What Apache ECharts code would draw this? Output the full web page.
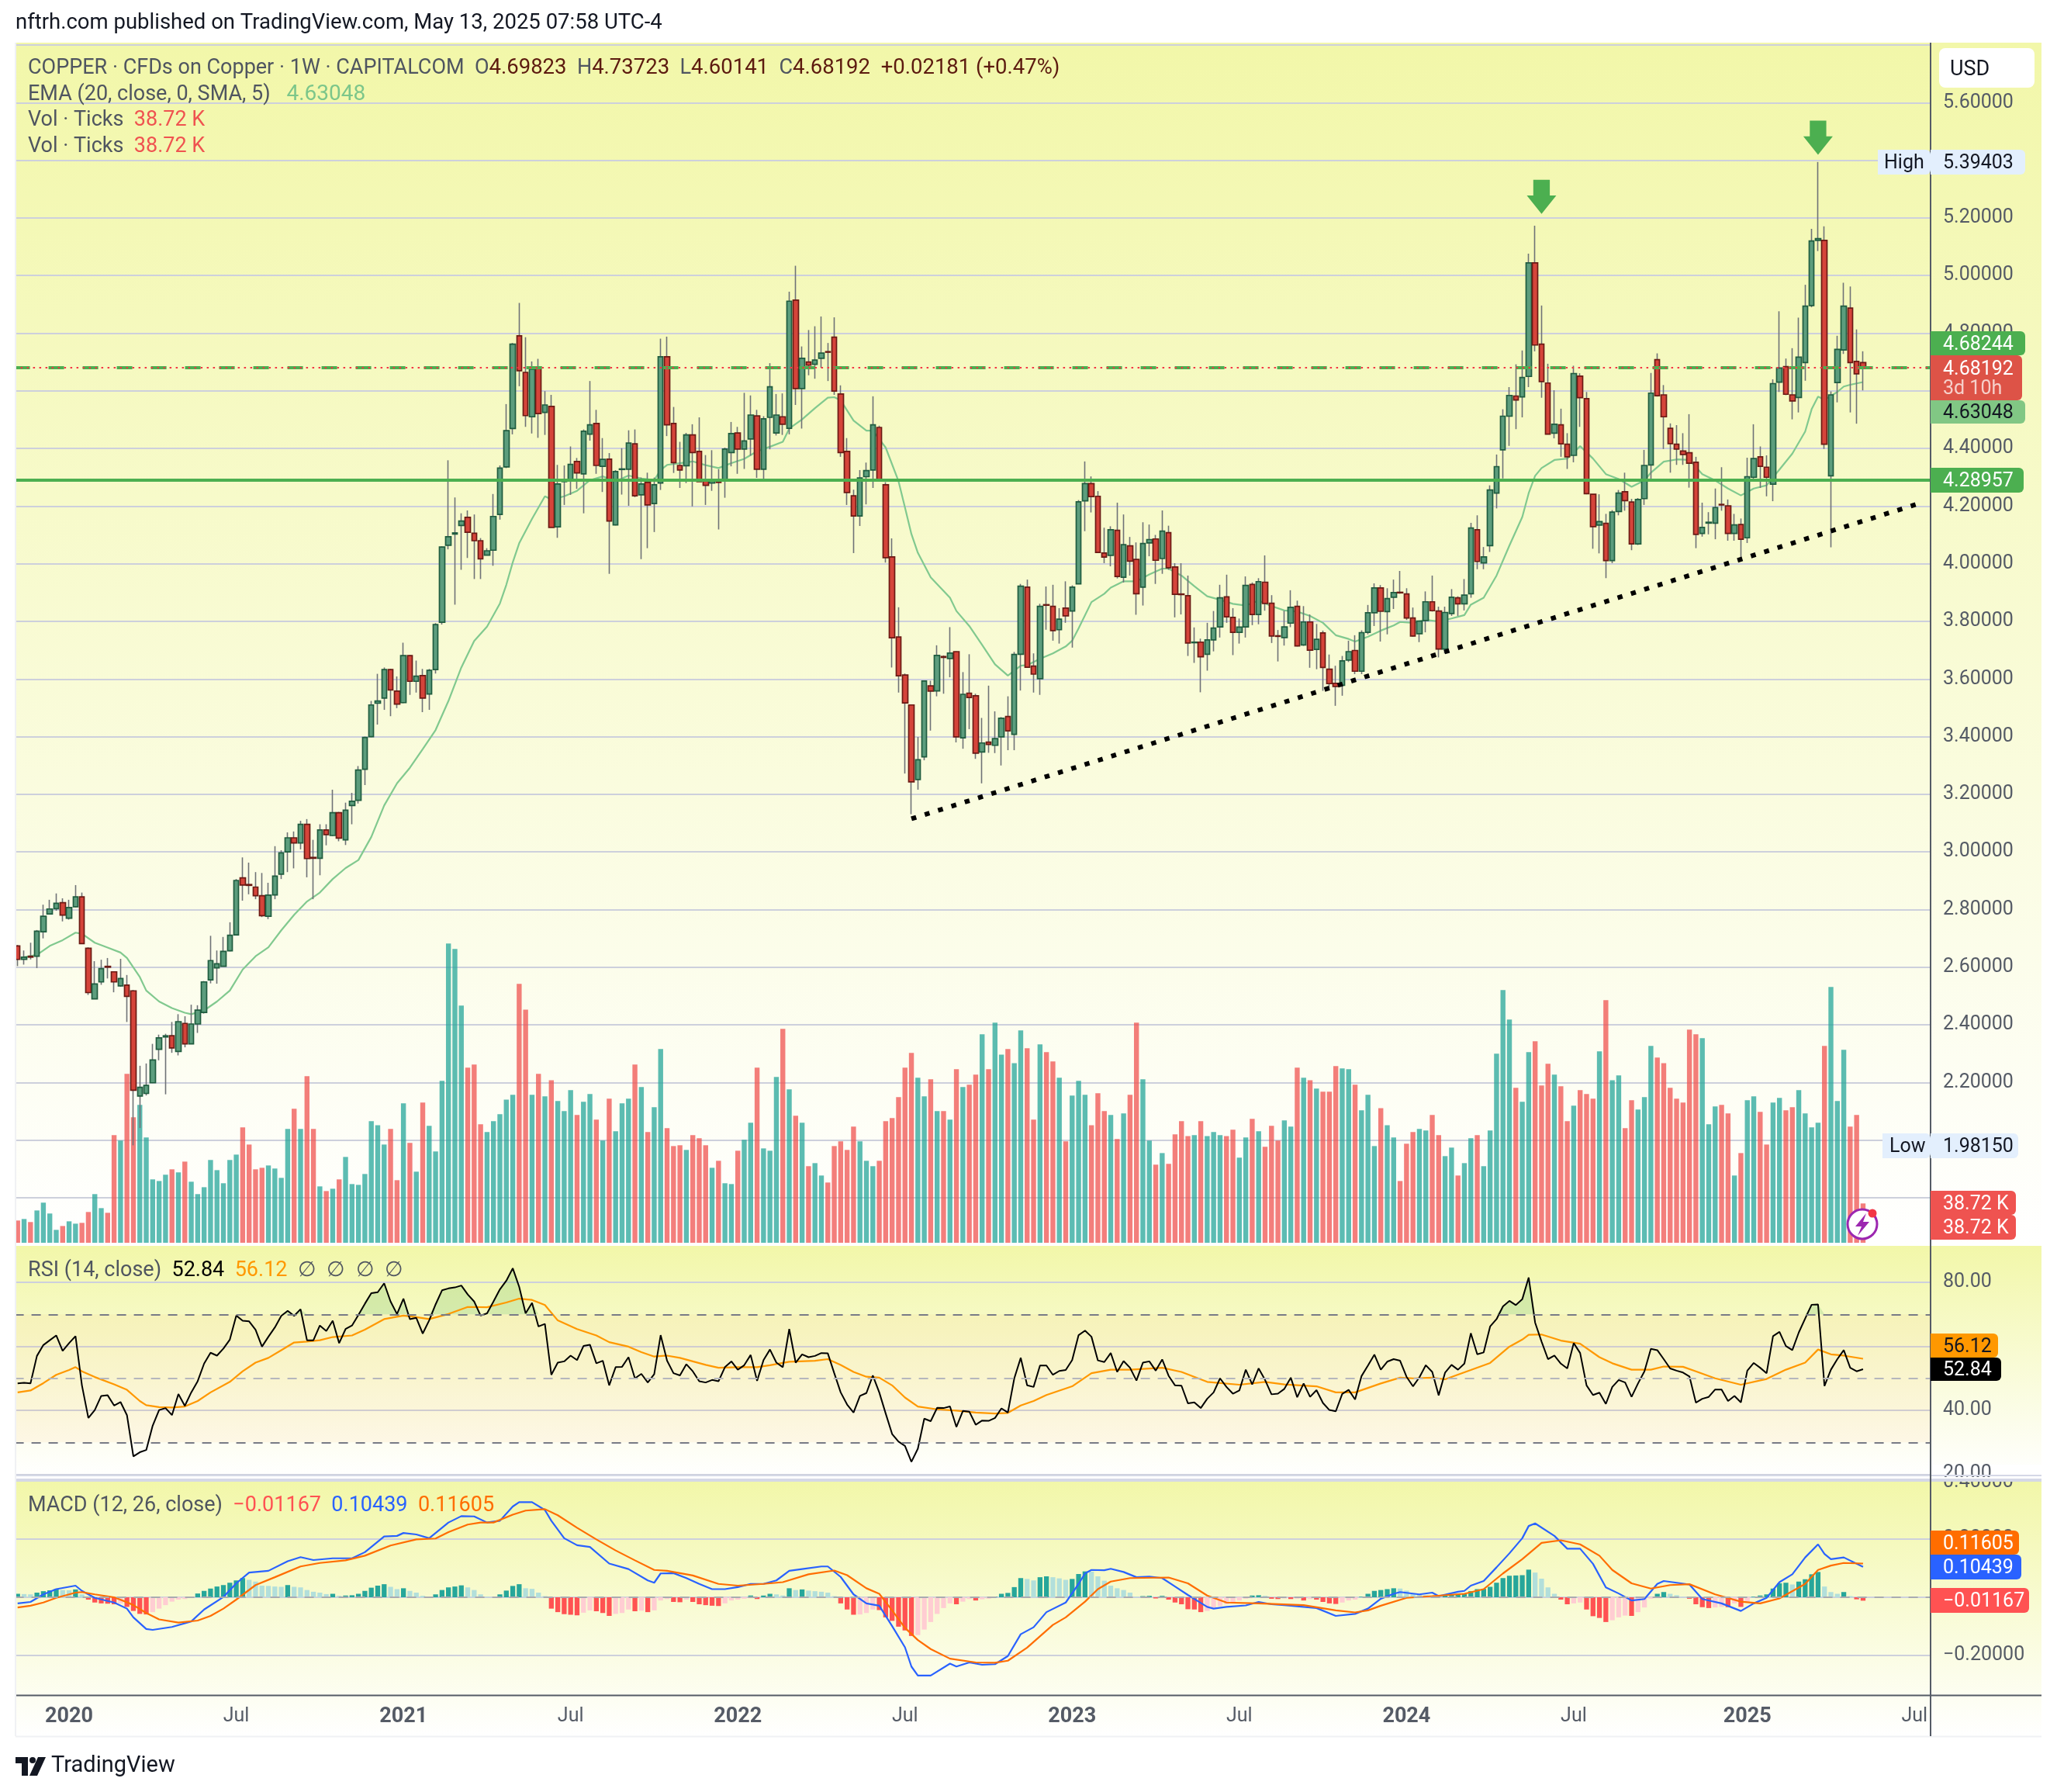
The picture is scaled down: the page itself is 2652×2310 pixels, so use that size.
<!DOCTYPE html>
<html>
<head>
<meta charset="utf-8">
<script src="https://cdn.jsdelivr.net/npm/echarts@6/dist/echarts.min.js"></script>
<style>
  html, body { margin: 0; background: #fff; }
  #chart { width: 2652px; height: 2310px; }
</style>
</head>
<body>
<div id="chart"></div>
<script>
// weekly candles
const opens = [
  2.674,2.627,2.638,2.638,2.723,2.785,2.803,2.824,2.770,2.810,2.844,2.666,2.490,2.549,2.603,2.584,2.535,2.538,2.518,2.153,
  2.162,2.199,2.315,2.358,2.362,2.308,2.405,2.334,2.403,2.443,2.556,2.598,2.603,2.657,2.712,2.910,2.887,2.878,2.848,2.777,
  2.851,2.923,3.000,3.049,3.031,3.096,2.981,2.978,3.076,3.057,3.136,3.042,3.161,3.179,3.287,3.400,3.516,3.534,3.633,3.558,
  3.518,3.681,3.592,3.612,3.548,3.633,3.797,4.064,4.103,4.133,4.161,4.106,4.080,4.030,4.047,4.171,4.336,4.469,4.791,4.664,
  4.510,4.683,4.525,4.546,4.128,4.285,4.287,4.355,4.312,4.450,4.487,4.338,4.363,4.135,4.327,4.328,4.416,4.239,4.282,4.209,
  4.280,4.718,4.487,4.341,4.340,4.447,4.390,4.290,4.280,4.290,4.290,4.386,4.454,4.398,4.433,4.513,4.328,4.508,4.454,4.510,
  4.470,4.915,4.608,4.700,4.692,4.713,4.736,4.786,4.589,4.390,4.236,4.166,4.302,4.325,4.473,4.274,4.024,3.746,3.614,3.510,
  3.251,3.330,3.576,3.559,3.678,3.671,3.695,3.396,3.551,3.542,3.347,3.381,3.370,3.399,3.470,3.408,3.686,3.919,3.645,3.601,
  3.858,3.852,3.771,3.846,3.836,3.930,4.218,4.278,4.234,4.037,4.029,4.116,3.953,4.062,4.015,3.919,4.072,4.086,4.018,4.108,
  3.989,3.895,3.889,3.726,3.728,3.686,3.736,3.781,3.885,3.814,3.762,3.781,3.928,3.824,3.936,3.863,3.750,3.744,3.794,3.852,
  3.718,3.798,3.703,3.760,3.634,3.585,3.578,3.666,3.699,3.627,3.762,3.830,3.916,3.834,3.884,3.901,3.895,3.812,3.757,3.803,
  3.868,3.836,3.704,3.827,3.882,3.861,3.896,4.118,4.003,4.063,4.245,4.395,4.512,4.582,4.579,4.650,5.044,4.762,4.627,4.453,
  4.482,4.415,4.376,4.651,4.573,4.241,4.134,4.140,4.011,4.181,4.250,4.214,4.069,4.226,4.343,4.708,4.586,4.470,4.415,4.391,
  4.385,4.352,4.105,4.141,4.141,4.206,4.201,4.105,4.136,4.090,4.300,4.371,4.335,4.276,4.630,4.684,4.586,4.577,4.698,4.896,
  5.122,5.122,4.305,4.629,4.742,4.887,4.702,4.69823
];
const closes = [
  2.627,2.635,2.635,2.725,2.777,2.802,2.822,2.781,2.807,2.844,2.682,2.512,2.542,2.595,2.600,2.549,2.561,2.499,2.173,2.183,
  2.190,2.278,2.355,2.362,2.320,2.411,2.334,2.403,2.451,2.549,2.623,2.612,2.655,2.711,2.901,2.885,2.884,2.848,2.779,2.850,
  2.916,2.997,3.049,3.031,3.096,2.977,2.978,3.076,3.060,3.136,3.048,3.145,3.176,3.284,3.397,3.510,3.524,3.633,3.562,3.513,
  3.681,3.592,3.610,3.534,3.630,3.789,4.058,4.094,4.107,4.148,4.109,4.080,4.017,4.045,4.164,4.332,4.462,4.762,4.670,4.514,
  4.675,4.521,4.551,4.126,4.277,4.287,4.345,4.315,4.460,4.482,4.341,4.362,4.148,4.320,4.329,4.419,4.236,4.277,4.204,4.274,
  4.718,4.482,4.351,4.325,4.447,4.386,4.285,4.272,4.289,4.282,4.398,4.452,4.398,4.426,4.516,4.328,4.503,4.614,4.516,4.484,
  4.911,4.608,4.713,4.689,4.707,4.731,4.734,4.599,4.386,4.247,4.166,4.298,4.323,4.482,4.293,4.021,3.743,3.611,3.517,3.243,
  3.320,3.593,3.558,3.682,3.675,3.690,3.399,3.547,3.536,3.343,3.378,3.373,3.393,3.464,3.420,3.685,3.922,3.641,3.617,3.852,
  3.856,3.768,3.808,3.819,3.919,4.215,4.278,4.233,4.039,4.023,4.118,3.956,4.066,4.009,3.896,4.070,4.084,4.012,4.113,3.986,
  3.894,3.893,3.725,3.728,3.677,3.736,3.777,3.882,3.816,3.762,3.780,3.925,3.824,3.938,3.862,3.749,3.748,3.781,3.849,3.715,
  3.798,3.700,3.738,3.640,3.584,3.574,3.663,3.695,3.627,3.761,3.830,3.916,3.835,3.879,3.900,3.899,3.812,3.749,3.801,3.868,
  3.837,3.704,3.831,3.884,3.861,3.891,4.124,4.008,4.024,4.256,4.337,4.512,4.584,4.568,4.646,5.044,4.759,4.632,4.450,4.484,
  4.416,4.371,4.660,4.576,4.243,4.129,4.146,4.011,4.179,4.245,4.219,4.069,4.223,4.341,4.592,4.583,4.510,4.417,4.398,4.379,
  4.349,4.102,4.126,4.144,4.195,4.204,4.105,4.135,4.085,4.302,4.365,4.338,4.300,4.625,4.679,4.588,4.565,4.717,4.894,5.120,
  5.128,4.415,4.586,4.744,4.894,4.698,4.659,4.68192
];
const lows = [
  2.604,2.609,2.627,2.597,2.700,2.785,2.796,2.759,2.765,2.808,2.682,2.504,2.490,2.539,2.561,2.513,2.532,2.410,1.982,2.042,
  2.155,2.198,2.277,2.159,2.303,2.294,2.322,2.334,2.372,2.439,2.544,2.543,2.603,2.655,2.712,2.831,2.853,2.836,2.774,2.767,
  2.836,2.906,2.930,2.943,3.009,2.912,2.836,2.919,3.023,3.055,3.037,3.024,3.096,3.168,3.232,3.398,3.442,3.493,3.471,3.499,
  3.516,3.545,3.553,3.485,3.493,3.619,3.789,4.050,3.858,3.979,4.020,3.947,3.947,4.030,3.993,4.153,4.332,4.449,4.616,4.475,
  4.452,4.437,4.447,4.126,4.090,4.204,4.239,4.260,4.175,4.427,4.312,4.249,3.965,4.133,4.240,4.201,4.231,4.016,4.054,4.110,
  4.256,4.443,4.315,4.263,4.280,4.199,4.285,4.204,4.253,4.119,4.229,4.338,4.312,4.329,4.375,4.298,4.286,4.397,4.445,4.447,
  4.449,4.551,4.469,4.654,4.642,4.680,4.634,4.586,4.371,4.204,4.037,4.131,4.206,4.263,4.290,4.004,3.640,3.553,3.272,3.131,
  3.216,3.318,3.421,3.540,3.549,3.606,3.380,3.358,3.426,3.323,3.238,3.344,3.343,3.300,3.353,3.353,3.560,3.641,3.553,3.545,
  3.771,3.733,3.723,3.795,3.709,3.930,4.113,4.178,4.039,4.002,3.991,3.949,3.935,3.959,3.823,3.855,4.026,3.930,3.965,3.979,
  3.814,3.824,3.680,3.656,3.554,3.629,3.696,3.744,3.795,3.683,3.723,3.744,3.787,3.790,3.837,3.725,3.661,3.716,3.780,3.713,
  3.715,3.639,3.634,3.559,3.560,3.507,3.542,3.659,3.617,3.617,3.755,3.784,3.730,3.755,3.843,3.896,3.805,3.747,3.728,3.762,
  3.834,3.675,3.689,3.819,3.819,3.838,3.882,3.981,3.981,4.041,4.192,4.296,4.409,4.467,4.508,4.613,4.737,4.576,4.450,4.435,
  4.371,4.329,4.352,4.475,4.241,4.052,4.036,3.950,4.002,4.168,4.184,4.047,4.065,4.204,4.285,4.580,4.398,4.316,4.343,4.343,
  4.264,4.054,4.094,4.102,4.085,4.184,4.080,4.080,4.019,4.072,4.294,4.263,4.234,4.217,4.596,4.585,4.501,4.525,4.635,4.890,
  5.085,4.398,4.057,4.560,4.728,4.525,4.486,4.60141
];
const highs = [
  2.677,2.658,2.685,2.729,2.817,2.834,2.856,2.839,2.834,2.885,2.859,2.669,2.621,2.626,2.632,2.586,2.629,2.573,2.521,2.258,
  2.266,2.334,2.366,2.369,2.410,2.437,2.430,2.470,2.468,2.552,2.709,2.658,2.705,2.756,2.906,2.981,2.963,2.930,2.927,2.893,
  3.020,3.006,3.068,3.071,3.108,3.114,3.042,3.096,3.096,3.216,3.139,3.171,3.205,3.298,3.400,3.524,3.618,3.640,3.635,3.609,
  3.726,3.683,3.664,3.635,3.635,3.794,4.060,4.359,4.230,4.175,4.185,4.171,4.089,4.054,4.242,4.341,4.554,4.766,4.905,4.786,
  4.702,4.711,4.599,4.586,4.343,4.341,4.407,4.367,4.466,4.634,4.534,4.436,4.384,4.325,4.401,4.463,4.466,4.299,4.316,4.299,
  4.781,4.788,4.544,4.423,4.454,4.484,4.508,4.377,4.394,4.328,4.403,4.492,4.475,4.593,4.584,4.534,4.512,4.696,4.589,4.591,
  4.944,5.034,4.754,4.811,4.824,4.858,4.766,4.855,4.619,4.436,4.257,4.325,4.351,4.581,4.479,4.283,4.088,3.849,3.619,3.510,
  3.399,3.594,3.594,3.717,3.682,3.780,3.696,3.624,3.686,3.549,3.465,3.577,3.488,3.468,3.540,3.694,3.930,3.945,3.689,3.861,
  3.921,3.927,3.846,3.939,3.925,4.221,4.355,4.303,4.252,4.125,4.130,4.212,4.171,4.093,4.074,4.144,4.136,4.100,4.185,4.132,
  4.002,4.002,3.959,3.779,3.740,3.795,3.836,3.927,3.962,3.846,3.810,3.956,3.935,3.950,4.029,3.891,3.770,3.837,3.908,3.872,
  3.853,3.824,3.791,3.768,3.685,3.646,3.680,3.733,3.752,3.769,3.857,3.932,3.926,3.915,3.945,3.975,3.915,3.848,3.803,3.904,
  3.959,3.851,3.851,3.912,3.887,3.947,4.142,4.168,4.058,4.272,4.379,4.536,4.613,4.692,4.740,5.076,5.173,4.896,4.694,4.602,
  4.538,4.453,4.687,4.661,4.596,4.241,4.241,4.173,4.186,4.256,4.316,4.225,4.228,4.395,4.662,4.730,4.620,4.487,4.481,4.453,
  4.519,4.371,4.212,4.179,4.261,4.335,4.223,4.173,4.157,4.368,4.484,4.407,4.376,4.640,4.876,4.712,4.748,4.854,4.968,5.162,
  5.394,5.171,4.598,4.791,4.975,4.962,4.813,4.73723
];
// volume in K ticks
const volumes = [
  21.9,23.4,20.4,31.8,39.5,28.8,12.7,16.5,21.1,18.8,19.6,30.3,47.9,34.1,29.5,105.9,100.6,166.3,123.5,135.7,
  103.6,62.4,60.8,67.0,72.3,69.3,79.9,60.1,47.9,54.7,81.5,71.5,58.6,81.5,86.8,113.6,96.7,72.3,73.8,76.1,
  73.1,63.9,112.0,131.9,112.0,164.0,112.0,55.5,50.9,53.2,62.4,84.5,57.8,57.0,67.7,119.7,115.8,96.7,112.0,61.6,
  137.2,98.3,70.0,138.0,115.1,89.9,159.4,294.6,289.2,233.5,172.4,175.4,116.6,109.0,119.7,126.5,141.0,145.6,254.9,229.6,
  145.6,166.3,144.1,160.1,139.5,129.6,150.2,125.8,138.8,146.4,121.2,100.6,141.8,109.7,137.2,141.8,175.4,153.3,109.0,133.4,
  190.7,112.8,95.2,96.0,91.4,105.9,102.9,96.0,73.8,80.7,58.6,57.8,90.6,101.3,118.1,172.4,92.9,90.6,163.2,210.6,
  151.0,125.0,118.1,75.4,78.4,66.2,59.3,95.2,99.8,91.4,114.3,99.8,80.7,75.4,80.7,119.7,122.7,143.3,172.4,186.9,
  162.4,144.1,160.9,129.6,129.6,121.2,170.8,153.3,155.6,165.5,205.2,170.8,216.7,185.3,190.7,176.9,209.0,191.5,121.2,195.3,
  187.6,178.5,162.4,99.8,144.9,159.4,145.6,115.8,147.2,129.6,125.8,102.1,127.3,145.6,216.7,160.9,100.6,76.9,88.3,77.7,
  106.7,119.7,105.1,105.9,119.7,105.1,109.0,105.9,105.1,111.3,83.8,103.6,122.0,109.7,94.5,115.1,100.6,120.4,114.3,172.4,
  162.4,160.1,151.7,148.7,148.7,173.9,171.6,170.8,155.6,130.4,145.6,95.2,132.6,115.8,103.6,60.8,97.5,109.0,112.0,110.5,
  125.8,105.9,85.3,93.7,66.2,78.4,102.9,105.9,75.4,110.5,186.1,248.7,219.7,152.5,138.8,187.6,198.3,154.8,176.2,165.5,
  154.0,119.7,134.9,150.2,146.4,141.8,188.4,238.8,160.1,164.7,112.8,140.3,131.1,143.3,193.8,182.3,176.9,152.5,141.8,138.0,
  209.8,205.2,201.4,116.6,134.2,135.7,127.3,66.2,88.3,140.3,144.1,128.8,96.7,138.0,142.6,130.4,133.4,150.2,127.3,113.6,
  118.1,193.8,251.8,139.5,189.9,114.3,125.8,38.72
];
const rsiValues = [
  48.4,48.6,48.4,57.0,60.4,61.9,63.4,58.6,61.0,63.2,47.8,37.6,40.1,44.5,44.7,41.5,42.6,38.5,25.6,26.9,
  27.6,35.2,40.1,40.7,38.5,45.1,41.4,45.6,49.1,54.6,58.0,57.1,59.3,62.1,69.6,68.0,67.8,65.2,59.9,63.0,
  65.9,69.5,71.1,69.5,71.6,61.9,61.9,66.5,64.8,68.0,61.0,65.4,66.5,69.8,73.3,76.6,76.9,79.7,74.0,70.1,
  74.9,68.5,68.9,64.0,68.1,73.1,77.5,78.1,78.4,79.0,76.2,74.0,69.6,70.3,74.0,77.8,80.5,84.4,78.6,70.3,
  73.6,66.2,67.0,51.1,54.9,55.3,57.1,55.7,60.1,60.5,54.7,55.5,47.8,53.5,53.6,56.6,50.0,51.4,48.7,51.3,
  63.5,55.5,51.6,50.9,54.4,52.2,49.1,48.7,49.5,49.1,53.5,55.3,52.7,54.1,57.3,49.2,55.7,59.0,54.9,53.5,
  65.4,54.9,57.5,56.6,57.0,57.9,57.8,51.6,45.6,41.8,39.3,44.5,45.4,50.9,45.6,39.0,32.6,30.2,28.9,23.9,
  28.0,37.4,36.6,40.8,40.7,41.2,34.8,39.8,39.6,35.5,36.8,36.7,37.6,40.6,39.3,50.0,56.4,47.8,47.3,54.0,
  54.0,51.1,52.3,52.6,55.7,63.5,64.9,63.0,55.6,55.1,57.9,52.0,55.4,53.3,49.3,54.9,55.3,52.4,55.9,50.8,
  47.8,47.7,42.2,42.5,40.7,43.6,45.6,50.0,47.3,45.2,46.2,52.7,48.1,53.1,49.5,45.0,45.2,46.7,50.2,44.1,
  48.4,44.2,46.3,42.3,40.1,39.7,45.1,46.4,43.4,50.7,54.0,57.4,52.7,55.2,56.0,55.5,50.5,47.5,50.3,54.1,
  52.0,44.7,51.8,54.2,52.7,54.6,64.1,57.5,58.1,66.2,68.5,72.5,74.2,72.9,74.7,81.5,67.4,61.5,56.0,57.1,
  54.6,53.1,61.0,57.9,47.8,44.8,45.5,42.0,47.3,49.5,48.7,44.2,48.4,52.2,59.2,58.8,56.0,53.1,52.4,51.8,
  50.6,42.4,43.6,44.2,46.5,46.5,42.9,44.5,42.5,52.4,54.8,53.3,51.6,63.2,64.5,60.1,58.8,64.3,68.7,73.0,
  73.1,47.6,52.7,56.0,58.8,53.3,52.2,52.84
];
const macdHist = [
  .012,.011,.010,.016,.021,.024,.028,.025,.024,.027,.010,-.008,-.018,-.021,-.022,-.024,-.021,-.033,-.047,-.057,
  -.059,-.051,-.039,-.027,-.015,-.008,-.006,.001,.013,.022,.030,.037,.042,.050,.058,.066,.060,.054,.040,.039,
  .037,.036,.042,.036,.034,.025,.019,.016,.011,.012,.005,.006,.007,.012,.022,.033,.040,.045,.036,.028,
  .031,.022,.016,.005,.001,.010,.025,.034,.037,.041,.034,.025,.010,.002,.001,.010,.023,.039,.045,.031,
  .029,.016,.004,-.039,-.051,-.058,-.060,-.062,-.053,-.045,-.048,-.054,-.064,-.057,-.054,-.042,-.048,-.046,-.051,-.045,
  -.011,-.006,-.016,-.017,-.008,-.016,-.024,-.027,-.029,-.030,-.021,-.011,-.008,-.005,.006,-.006,.006,.012,.010,.006,
  .031,.025,.027,.023,.021,.019,.016,.004,-.021,-.042,-.060,-.059,-.054,-.042,-.044,-.069,-.081,-.101,-.114,-.133,
  -.130,-.111,-.085,-.057,-.037,-.021,-.024,-.015,-.006,-.011,-.007,-.005,.002,.012,.015,.035,.066,.063,.058,.069,
  .072,.069,.065,.060,.063,.080,.089,.088,.072,.057,.040,.031,.025,.016,.002,.004,.005,-.004,.005,-.008,
  -.018,-.024,-.041,-.042,-.051,-.047,-.036,-.030,-.024,-.017,-.011,-.005,.006,.007,.005,-.005,-.006,-.004,-.006,-.005,
  -.011,-.006,-.008,-.016,-.021,-.023,-.018,-.011,-.008,.002,.012,.022,.025,.028,.031,.030,.023,.012,.008,.007,
  .006,.004,.006,.008,.010,.011,.021,.028,.029,.036,.050,.066,.074,.075,.076,.095,.085,.064,.034,.012,
  -.008,-.024,-.021,-.018,-.042,-.065,-.071,-.085,-.079,-.069,-.063,-.064,-.051,-.035,-.005,.012,.018,.012,.007,.001,
  -.005,-.024,-.034,-.037,-.035,-.033,-.034,-.021,-.033,-.015,.002,.006,.010,.030,.048,.050,.044,.054,.062,.079,
  .087,.037,.018,.012,.018,.004,-.007,-.01167
];
// smooth lines, read at selected weeks: [week index, value]
const emaPoints = [
  [1,2.635],[3,2.643],[5,2.674],[7,2.694],[9,2.720],[10,2.716],[12,2.685],[14,2.668],[16,2.651],[17,2.632],[19,2.566],[20,2.519],
  [22,2.481],[24,2.458],[26,2.442],[27,2.437],[29,2.450],[31,2.481],[33,2.519],[35,2.592],[37,2.638],[39,2.669],[41,2.728],[43,2.782],
  [45,2.828],[47,2.859],[49,2.906],[51,2.944],[53,2.972],[55,3.052],[57,3.161],[59,3.238],[61,3.292],[63,3.357],[65,3.423],[67,3.524],
  [69,3.640],[71,3.732],[73,3.782],[75,3.862],[76,3.927],[77,4.005],[78,4.071],[80,4.156],[82,4.234],[83,4.223],[85,4.234],[87,4.253],
  [89,4.290],[91,4.303],[93,4.286],[95,4.306],[97,4.296],[99,4.290],[100,4.325],[101,4.343],[103,4.349],[105,4.355],[107,4.342],[109,4.332],
  [111,4.349],[113,4.364],[115,4.390],[117,4.406],[119,4.423],[120,4.469],[122,4.501],[124,4.540],[126,4.576],[127,4.578],[128,4.567],[130,4.497],
  [132,4.462],[133,4.462],[135,4.403],[137,4.286],[138,4.195],[139,4.103],[140,4.038],[142,3.953],[145,3.882],[146,3.836],[148,3.784],[150,3.718],
  [152,3.651],[154,3.612],[156,3.646],[157,3.648],[159,3.670],[161,3.689],[163,3.713],[164,3.733],[165,3.776],[167,3.867],[169,3.896],[170,3.917],
  [172,3.939],[174,3.939],[176,3.963],[178,3.983],[179,3.983],[181,3.959],[183,3.922],[185,3.887],[187,3.875],[189,3.861],[191,3.855],[193,3.872],
  [195,3.853],[197,3.838],[199,3.834],[201,3.819],[203,3.795],[205,3.752],[207,3.739],[208,3.730],[210,3.747],[212,3.768],[214,3.786],[215,3.798],
  [217,3.795],[219,3.805],[221,3.800],[223,3.810],[225,3.822],[226,3.858],[228,3.882],[230,3.959],[232,4.063],[234,4.162],[235,4.245],[236,4.305],
  [237,4.332],[239,4.360],[241,4.365],[243,4.408],[245,4.365],[247,4.311],[249,4.294],[251,4.267],[253,4.289],[254,4.316],[256,4.354],[258,4.362],
  [260,4.360],[262,4.311],[264,4.289],[266,4.261],[268,4.237],[270,4.261],[272,4.272],[274,4.327],[276,4.382],[278,4.459],[279,4.536],[280,4.580],
  [281,4.569],[283,4.596],[284,4.615],[285,4.621],[287,4.63048]
];
const rsiMaPoints = [
  [0,45.6],[2,46.2],[4,48.5],[6,51.1],[8,52.6],[9,53.5],[10,52.2],[12,50.4],[15,48.1],[17,46.4],[19,42.9],[20,41.6],
  [22,41.0],[24,40.9],[26,41.2],[28,42.9],[30,45.6],[33,48.9],[35,52.2],[37,54.9],[39,56.4],[41,58.8],[43,61.2],[45,61.5],
  [47,61.9],[49,62.9],[52,63.4],[54,65.2],[57,68.5],[60,69.6],[62,69.1],[64,68.5],[67,70.1],[70,72.3],[73,72.2],[76,73.7],
  [78,74.9],[80,74.5],[82,72.9],[84,68.1],[87,65.4],[90,63.4],[92,61.3],[95,59.9],[97,58.2],[99,56.8],[101,57.1],[103,56.4],
  [105,55.3],[107,54.2],[109,53.3],[112,53.5],[115,53.5],[117,54.1],[120,55.2],[124,55.5],[126,56.0],[128,54.2],[130,52.0],[132,50.5],
  [134,50.2],[136,47.8],[138,44.0],[140,41.2],[143,40.3],[146,39.9],[149,39.3],[152,39.0],[154,39.2],[156,41.5],[158,42.9],[160,44.8],
  [164,47.5],[167,51.6],[170,52.7],[173,52.7],[178,53.3],[181,52.0],[185,48.9],[190,48.0],[194,48.9],[197,48.1],[202,47.5],[205,45.6],
  [208,45.6],[210,47.0],[212,48.4],[215,50.2],[217,50.0],[220,50.2],[222,49.7],[226,52.6],[229,54.8],[232,59.9],[234,62.1],[235,63.6],
  [237,63.7],[240,61.8],[243,60.8],[246,56.6],[248,54.7],[251,52.7],[254,52.7],[256,53.7],[259,53.6],[261,52.2],[264,50.0],[268,48.0],
  [272,49.8],[275,52.7],[278,54.9],[280,59.0],[282,57.5],[284,57.1],[287,56.12]
];
const macdPoints = [
  [0,-.021],[2,-.016],[4,.010],[6,.028],[9,.040],[10,.022],[12,-.002],[15,-.018],[17,-.039],[18,-.069],[20,-.109],[21,-.112],
  [24,-.102],[27,-.083],[29,-.042],[32,.001],[34,.048],[36,.085],[39,.091],[42,.124],[44,.138],[46,.128],[49,.134],[52,.134],
  [54,.155],[57,.209],[59,.211],[60,.221],[62,.216],[64,.203],[67,.257],[69,.279],[71,.278],[73,.257],[75,.263],[77,.312],
  [78,.327],[80,.327],[82,.300],[83,.263],[85,.203],[87,.179],[89,.173],[92,.116],[95,.097],[98,.058],[99,.050],[100,.082],
  [102,.083],[104,.066],[106,.046],[108,.028],[110,.028],[112,.035],[114,.046],[116,.046],[118,.058],[120,.091],[122,.097],[125,.106],
  [126,.106],[128,.070],[130,.010],[132,-.021],[134,-.029],[136,-.099],[138,-.172],[139,-.238],[140,-.269],[142,-.269],[145,-.228],[146,-.238],
  [148,-.224],[150,-.232],[152,-.230],[154,-.202],[156,-.127],[158,-.103],[160,-.051],[163,-.018],[165,.046],[166,.082],[167,.094],[169,.093],
  [170,.098],[172,.087],[174,.069],[176,.071],[178,.066],[180,.037],[182,.008],[185,-.033],[186,-.039],[188,-.033],[191,-.028],[193,-.016],
  [195,-.024],[197,-.027],[200,-.033],[202,-.037],[205,-.064],[208,-.057],[210,-.039],[212,-.005],[214,.012],[215,.018],[218,.010],[220,.016],
  [221,.004],[224,.019],[225,.022],[226,.040],[228,.056],[230,.103],[232,.151],[234,.203],[235,.245],[236,.254],[239,.211],[241,.167],
  [243,.167],[245,.115],[247,.034],[249,.013],[251,-.011],[253,-.006],[255,.046],[256,.056],[260,.044],[262,-.006],[265,-.021],[268,-.047],
  [270,-.021],[272,-.002],[274,.052],[276,.079],[278,.137],[280,.182],[281,.149],[282,.131],[284,.137],[287,.10439]
];
const signalPoints = [
  [0,-.035],[2,-.029],[4,-.018],[6,-.002],[9,.016],[10,.018],[12,.010],[15,.000],[17,-.017],[18,-.027],[20,-.054],[22,-.076],
  [25,-.087],[28,-.080],[30,-.064],[32,-.039],[34,-.008],[37,.042],[40,.069],[44,.106],[47,.118],[51,.127],[54,.143],[58,.178],
  [62,.199],[65,.202],[67,.224],[70,.250],[72,.257],[74,.257],[77,.284],[79,.298],[82,.303],[84,.282],[87,.239],[90,.199],
  [93,.161],[96,.127],[99,.094],[101,.091],[105,.075],[109,.046],[112,.040],[116,.046],[119,.052],[123,.079],[127,.092],[129,.076],
  [132,.031],[134,.012],[136,-.045],[138,-.105],[140,-.147],[142,-.178],[145,-.211],[149,-.224],[152,-.225],[154,-.218],[157,-.173],[161,-.095],
  [163,-.069],[166,-.015],[168,.028],[170,.054],[173,.066],[179,.068],[182,.048],[185,.006],[188,-.018],[193,-.021],[200,-.027],[205,-.045],
  [208,-.052],[210,-.045],[212,-.029],[216,-.002],[220,.004],[225,.012],[228,.028],[231,.082],[234,.131],[237,.187],[240,.196],[243,.182],
  [246,.143],[248,.094],[251,.048],[254,.030],[257,.042],[260,.045],[264,.010],[268,-.015],[271,-.021],[274,-.004],[278,.046],[280,.094],
  [282,.109],[284,.118],[287,.11605]
];
// annotations on the price pane
const trendLine = [[139, 3.115], [296, 4.211]];
const arrowPoints = [[237, 5.273], [280, 5.478]];
const supportLevel = 4.28957;
const emaTagLevel = 4.68244;
const lastClose = 4.68192;
// time axis
const weekCount = 298;
const tickWeeks = [8, 34, 60, 86, 112, 138, 164, 190, 216, 242, 269, 295];
const tickLabels = ['2020', 'Jul', '2021', 'Jul', '2022', 'Jul', '2023', 'Jul', '2024', 'Jul', '2025', 'Jul'];

const FONT = 'Roboto';
const GREY = '#555b66';
const GRID = '#cdd0dc';
const UP_VOL = 'rgba(38,166,154,0.75)';
const DOWN_VOL = 'rgba(239,83,80,0.75)';

const categories = Array.from({ length: weekCount }, (_, i) => String(i));
const wickData = opens.map((o, i) => [o, closes[i], lows[i], highs[i]]);
const bodyData = opens.map((o, i) => [o, closes[i], Math.min(o, closes[i]), Math.max(o, closes[i])]);
const volumeData = volumes.map((v, i) => ({
  value: v,
  itemStyle: { color: closes[i] >= opens[i] ? UP_VOL : DOWN_VOL }
}));
const histData = macdHist.map((v, i) => {
  const prev = i ? macdHist[i - 1] : 0;
  let color
  if (v >= 0) color = v >= prev ? '#26a69a' : '#b2dfdb'
  else color = v < prev ? '#ff5252' : '#ffcdd2'
  return { value: v, itemStyle: { color } };
});

const yellowFade = () => new echarts.graphic.LinearGradient(0, 0, 0, 1, [
  { offset: 0, color: '#f2f7a9' },
  { offset: 1, color: '#ffffff' }
]);

const bg = (y0, y1) => ({
  type: 'rect', z: -10, silent: true,
  shape: { x: 20, y: y0, width: 2612, height: y1 - y0 },
  style: { fill: yellowFade() }
});
const hLine = (x0, x1, y, stroke, lineWidth) => ({
  type: 'line', z: 54, silent: true,
  shape: { x1: x0, y1: y, x2: x1, y2: y },
  style: { stroke, lineWidth }
});
const tag = (x0, x1, y0, y1, fill, color, text, textX) => [
  {
    type: 'rect', z: 60, silent: true,
    shape: { x: x0, y: y0, width: x1 - x0, height: y1 - y0, r: [0, 6, 6, 0] },
    style: { fill }
  },
  {
    type: 'text', z: 61, silent: true, x: textX || 2505, y: (y0 + y1) / 2 + 2,
    style: { text, fill: color, font: `25px ${FONT}`, verticalAlign: 'middle' }
  }
];
const label = (x, y, text, fill, size, z) => ({
  type: 'text', z: z || 61, silent: true, x, y,
  style: { text, fill, font: `${size || 25}px ${FONT}`, verticalAlign: 'middle' }
});
const mask = (y0, y1, z) => ({
  type: 'rect', z, silent: true,
  shape: { x: 2491, y: y0, width: 141, height: y1 - y0 },
  style: { fill: '#ffffff' }
});

const graphicElements = [
  bg(55, 1603), bg(1606, 1903), bg(1910, 2238),
  // the 20.00 and 0.40000 labels are cut by the pane edge
  label(2505, 1911, '0.40000', GREY, 25, 50),
  mask(1888, 1910, 51),
  label(2505, 1900, '20.00', GREY, 25, 52),
  mask(1904, 1910, 53),
  hLine(20, 2632, 1902, '#d5d8e6', 2),
  hLine(20, 2632, 1908, '#d5d8e6', 4),
  hLine(20, 2632, 2185.5, '#555b66', 2),
  hLine(20, 2632, 2238.5, '#f0f1f4', 2),
  { type: 'rect', z: 70, silent: true, shape: { x: 0, y: 50, width: 20, height: 2190 }, style: { fill: '#fff' } },
  { type: 'line', z: 71, silent: true, shape: { x1: 20, y1: 55, x2: 20, y2: 2238 }, style: { stroke: '#f0f1f4', lineWidth: 2 } },
  { type: 'line', z: 55, silent: true, shape: { x1: 2489, y1: 55, x2: 2489, y2: 2238 }, style: { stroke: '#555b66', lineWidth: 2 } },
  { type: 'rect', z: 60, silent: true, shape: { x: 2500, y: 62, width: 123, height: 51, r: 8 }, style: { fill: '#fff' } },
  label(2514, 90, 'USD', '#131722', 27),
  ...tag(2421, 2489, 193, 225, '#e3effd', '#131722', 'High', 2429),
  ...tag(2489, 2611, 193, 225, '#e3effd', '#131722', '5.39403'),
  ...tag(2489, 2611, 427, 458, '#4caf50', '#fff', '4.68244'),
  { type: 'rect', z: 60, silent: true, shape: { x: 2489, y: 458, width: 118, height: 58, r: [0, 6, 6, 0] }, style: { fill: '#dd5347' } },
  label(2505, 477, '4.68192', '#fff'),
  label(2505, 502, '3d 10h', '#f6d0cb'),
  ...tag(2489, 2611, 516, 546, '#81c784', '#131722', '4.63048'),
  ...tag(2489, 2609, 603, 635, '#4caf50', '#fff', '4.28957'),
  ...tag(2427, 2489, 1461, 1493, '#e3effd', '#131722', 'Low', 2436),
  ...tag(2489, 2602, 1461, 1493, '#e3effd', '#131722', '1.98150'),
  ...tag(2489, 2599, 1535, 1566, '#ef5350', '#fff', '38.72 K'),
  ...tag(2489, 2599, 1566, 1598, '#ef5350', '#fff', '38.72 K'),
  ...tag(2489, 2576, 1719, 1750, '#ff9800', '#131722', '56.12'),
  ...tag(2489, 2580, 1750, 1780, '#000000', '#fff', '52.84'),
  ...tag(2489, 2603, 1973, 2004, '#ff6d00', '#fff', '0.11605'),
  ...tag(2489, 2606, 2004, 2036, '#2962ff', '#fff', '0.10439'),
  ...tag(2489, 2616, 2047, 2079, '#ff5252', '#fff', '\u22120.01167'),
  // alert badge at the end of the volume bars
  { type: 'circle', z: 62, silent: true, shape: { cx: 2401, cy: 1578, r: 19 }, style: { fill: '#fff', stroke: '#9c27b0', lineWidth: 3 } },
  { type: 'polygon', z: 63, silent: true, shape: { points: [[2406, 1564], [2392, 1581], [2400, 1581], [2395, 1593], [2410, 1575], [2402, 1575]] }, style: { fill: '#9c27b0' } },
  { type: 'circle', z: 64, silent: true, shape: { cx: 2414, cy: 1564, r: 5.5 }, style: { fill: '#f23645' } },
  // TradingView mark
  { type: 'polygon', silent: true, shape: { points: [[20, 2265], [36, 2265], [36, 2289], [28, 2289], [28, 2273], [20, 2273]] }, style: { fill: '#131722' } },
  { type: 'circle', silent: true, shape: { cx: 42, cy: 2269, r: 4 }, style: { fill: '#131722' } },
  { type: 'polygon', silent: true, shape: { points: [[49, 2265], [59, 2265], [48, 2289], [38, 2289]] }, style: { fill: '#131722' } },
  label(66, 2277, 'TradingView', '#131722', 29)
];

const legendRich = {
  g: { color: '#4f5560', fontSize: 27, fontFamily: FONT },
  b: { color: '#5c1a0f', fontSize: 27.5, fontFamily: FONT },
  r: { color: '#ef5350', fontSize: 27, fontFamily: FONT },
  e: { color: '#7cc68a', fontSize: 28, fontFamily: FONT },
  k: { color: '#000000', fontSize: 27, fontFamily: FONT },
  o: { color: '#ff9800', fontSize: 27, fontFamily: FONT },
  m: { color: '#ff5252', fontSize: 27, fontFamily: FONT },
  u: { color: '#2962ff', fontSize: 27, fontFamily: FONT },
  d: { color: '#ff6d00', fontSize: 27, fontFamily: FONT }
};
const legendLine = (left, y, text) => ({
  left, top: y - 11, padding: 0, text,
  textStyle: { fontFamily: FONT, fontSize: 27, fontWeight: 'normal', rich: legendRich }
});

const sharedX = (gridIndex, extra) => Object.assign({
  type: 'category', gridIndex, data: categories, boundaryGap: true,
  axisLine: { show: false }, axisTick: { show: false }, axisLabel: { show: false },
  splitLine: { show: false }
}, extra);
const rightAxis = (gridIndex, extra) => Object.assign({
  type: 'value', gridIndex, position: 'right', scale: false,
  axisLine: { show: false }, axisTick: { show: false },
  splitLine: { show: true, lineStyle: { color: GRID, width: 2 } }
}, extra);
const axisText = (formatter) => ({
  color: GREY, fontFamily: FONT, fontSize: 25, margin: 16, padding: [6, 0, 0, 0], formatter
});
const flatLine = (yAxis, color, type, width) => ({
  yAxis,
  lineStyle: { color, type, width },
  symbol: 'none',
  label: { show: false }
});

const option = {
  animation: false,
  backgroundColor: '#ffffff',
  title: [
    { left: 20, top: 16, padding: 0, text: 'nftrh.com published on TradingView.com, May 13, 2025 07:58 UTC-4', textStyle: { fontFamily: FONT, fontSize: 27.5, fontWeight: 'normal', color: '#131722' } },
    legendLine(36, 85, '{g|COPPER · CFDs on Copper · 1W · CAPITALCOM  O}{b|4.69823}{g|  H}{b|4.73723}{g|  L}{b|4.60141}{g|  C}{b|4.68192}{b|  +0.02181 (+0.47%)}'),
    legendLine(36, 119, '{g|EMA (20, close, 0, SMA, 5)}{e|   4.63048}'),
    legendLine(36, 153, '{g|Vol · Ticks}{r|  38.72 K}'),
    legendLine(36, 187, '{g|Vol · Ticks}{r|  38.72 K}'),
    legendLine(36, 1636, '{g|RSI (14, close)}{k|  52.84}{o|  56.12}{g|  ∅  ∅  ∅  ∅}'),
    legendLine(36, 1939, '{g|MACD (12, 26, close)}{m|  \u22120.01167}{u|  0.10439}{d|  0.11605}')
  ],
  graphic: { elements: graphicElements },
  grid: [
    { left: 18.6, right: 163, top: 58, height: 1486 },
    { left: 18.6, right: 163, top: 1202, height: 400 },
    { left: 18.6, right: 163, top: 1653, height: 247.5 },
    { left: 18.6, right: 163, top: 1909, height: 300 },
    { left: 18.6, right: 163, top: 2185, height: 1 }
  ],
  xAxis: [
    sharedX(0),
    sharedX(1),
    sharedX(2),
    sharedX(3),
    sharedX(4, {
      axisLabel: {
        show: true, margin: 14, color: GREY, fontFamily: FONT, fontSize: 25,
        interval: (i) => tickWeeks.includes(i),
        formatter: (v) => {
          const text = tickLabels[tickWeeks.indexOf(Number(v))] || ''
          return text === 'Jul' ? text : `{y|${text}}`
        },
        rich: { y: { fontWeight: 'bold', color: GREY, fontFamily: FONT, fontSize: 27 } }
      }
    })
  ],
  yAxis: [
    rightAxis(0, {
      min: 1.8, max: 5.8, interval: 0.2,
      axisLabel: axisText((v) => (v > 2.1 && v < 5.7 ? v.toFixed(5) : ''))
    }),
    { type: 'value', gridIndex: 1, show: false, min: 0, max: 305.5 },
    rightAxis(2, {
      min: 20, max: 80, interval: 20,
      axisLabel: axisText((v) => (v > 20 ? v.toFixed(2) : ''))
    }),
    rightAxis(3, {
      min: -0.4, max: 0.4, interval: 0.2,
      splitLine: { show: true, showMinLine: false, lineStyle: { color: GRID, width: 2 } },
      axisLabel: axisText((v) => {
        if (v < -0.3 || v > 0.3 || Math.abs(v) < 0.01) return ''
        return (v < 0 ? '\u2212' : '') + Math.abs(v).toFixed(5)
      })
    }),
    { type: 'value', gridIndex: 4, show: false, min: 0, max: 1 }
  ],
  series: [
    {
      name: 'Volume', type: 'bar', xAxisIndex: 1, yAxisIndex: 1, z: 1,
      barWidth: 6.4, data: volumeData
    },
    {
      name: 'Levels', type: 'line', xAxisIndex: 0, yAxisIndex: 0, z: 2, data: [],
      markLine: {
        silent: true, symbol: 'none', animation: false,
        data: [
          flatLine(supportLevel, '#4caf50', 'solid', 4),
          flatLine(emaTagLevel, '#4caf50', [20, 24], 4),
          flatLine(lastClose, '#f23645', [2.5, 5.5], 2)
        ]
      }
    },
    {
      name: 'EMA', type: 'line', xAxisIndex: 0, yAxisIndex: 0, z: 2,
      showSymbol: false, connectNulls: true,
      lineStyle: { color: '#81c98f', width: 2.2 }, data: emaPoints
    },
    {
      name: 'Wicks', type: 'candlestick', xAxisIndex: 0, yAxisIndex: 0, z: 3,
      barWidth: 1,
      itemStyle: { color: '#6f7277', color0: '#6f7277', borderColor: '#6f7277', borderColor0: '#6f7277', borderColorDoji: '#6f7277', borderWidth: 1.6 },
      data: wickData
    },
    {
      name: 'Bodies', type: 'candlestick', xAxisIndex: 0, yAxisIndex: 0, z: 4,
      barWidth: 7,
      itemStyle: { color: '#5c9d7d', color0: '#d5443a', borderColor: '#1f5c3f', borderColor0: '#6b1a14', borderColorDoji: '#6b1a14', borderWidth: 1.7 },
      data: bodyData
    },
    {
      name: 'Trend', type: 'line', xAxisIndex: 0, yAxisIndex: 0, z: 5,
      showSymbol: false,
      lineStyle: { color: '#000000', width: 6, type: [6.5, 11.5] },
      data: trendLine
    },
    {
      name: 'Arrows', type: 'scatter', xAxisIndex: 0, yAxisIndex: 0, z: 6,
      symbol: 'path://M22 0 L78 0 L78 46 L100 46 L50 100 L0 46 L22 46 Z',
      symbolSize: [38, 44],
      itemStyle: { color: '#4caf50', opacity: 1 },
      data: arrowPoints
    },
    {
      name: 'RSI levels', type: 'line', xAxisIndex: 2, yAxisIndex: 2, z: 2, data: [],
      markArea: {
        silent: true,
        itemStyle: { color: 'rgba(255,160,60,0.07)' },
        data: [[{ yAxis: 70 }, { yAxis: 30 }]]
      },
      markLine: {
        silent: true, symbol: 'none', animation: false,
        data: [
          flatLine(70, '#787b86', [12, 10], 2),
          flatLine(50, '#b5b7bd', [12, 10], 2),
          flatLine(30, '#787b86', [12, 10], 2)
        ]
      }
    },
    {
      name: 'RSI base', type: 'line', xAxisIndex: 2, yAxisIndex: 2, z: 2, stack: 'ob', clip: false,
      showSymbol: false, lineStyle: { opacity: 0 },
      data: rsiValues.map(() => 70)
    },
    {
      name: 'RSI over', type: 'line', xAxisIndex: 2, yAxisIndex: 2, z: 2, stack: 'ob', clip: false,
      showSymbol: false, lineStyle: { opacity: 0 },
      areaStyle: { color: 'rgba(76,175,80,0.28)' },
      data: rsiValues.map((v) => Math.max(v - 70, 0))
    },
    {
      name: 'RSI MA', type: 'line', xAxisIndex: 2, yAxisIndex: 2, z: 3,
      showSymbol: false, lineStyle: { color: '#ff9800', width: 2.2 }, data: rsiMaPoints
    },
    {
      name: 'RSI', type: 'line', xAxisIndex: 2, yAxisIndex: 2, z: 4, clip: false,
      showSymbol: false, lineStyle: { color: '#000000', width: 2 }, data: rsiValues
    },
    {
      name: 'MACD zero', type: 'line', xAxisIndex: 3, yAxisIndex: 3, z: 1, data: [],
      markLine: {
        silent: true, symbol: 'none', animation: false,
        data: [flatLine(0, '#a9abb2', [12, 10], 2)]
      }
    },
    {
      name: 'Histogram', type: 'bar', xAxisIndex: 3, yAxisIndex: 3, z: 2,
      barWidth: 6.3, data: histData
    },
    {
      name: 'MACD', type: 'line', xAxisIndex: 3, yAxisIndex: 3, z: 3,
      showSymbol: false, lineStyle: { color: '#2962ff', width: 2.2 }, data: macdPoints
    },
    {
      name: 'Signal', type: 'line', xAxisIndex: 3, yAxisIndex: 3, z: 4,
      showSymbol: false, lineStyle: { color: '#ff6d00', width: 2.2 }, data: signalPoints
    }
  ]
};

const chart = echarts.init(document.getElementById('chart'), null, { renderer: 'canvas' });
chart.setOption(option);
</script>
</body>
</html>
